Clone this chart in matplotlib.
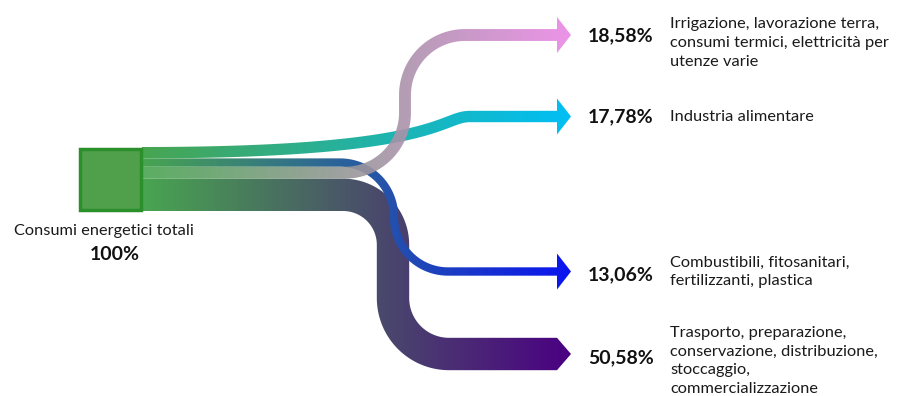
import numpy as np
import matplotlib
matplotlib.use("Agg")
import matplotlib.pyplot as plt
from matplotlib.path import Path
from matplotlib.patches import PathPatch, Rectangle

plt.rcParams['font.family'] = ['Lato', 'DejaVu Sans']

# shares of total energy use, in the order the flows leave the source box
labels = ["17,78%", "13,06%", "18,58%", "50,58%"]
values = [17.78, 13.06, 18.58, 50.58]
descriptions = [
    "Industria alimentare",
    "Combustibili, fitosanitari,\nfertilizzanti, plastica",
    "Irrigazione, lavorazione terra,\nconsumi termici, elettricità per\nutenze varie",
    "Trasporto, preparazione,\nconservazione, distribuzione,\nstoccaggio,\ncommercializzazione",
]
end_colors = ["#00bff5", "#0a14f0", "#eb87e6", "#4b0082"]
source_label = "Consumi energetici totali"
source_value = "100%"

W, H = 899, 396
BOX_X0, BOX_X1, BOX_Y0 = 78, 142, 147
SCALE = 0.64          # pixels per percent
SHAFT_END, TIP = 557, 571
START_RGB = np.array([72, 165, 80]) / 255


def hline(x0, x1, y, n=80):
    xs = np.linspace(x0, x1, n)
    return np.column_stack([xs, np.full(n, y)])


def vline(x, y0, y1, n=20):
    ys = np.linspace(y0, y1, n)
    return np.column_stack([np.full(n, x), ys])


def arc(cx, cy, r, a0, a1, n=60):
    a = np.radians(np.linspace(a0, a1, n))
    return np.column_stack([cx + r * np.cos(a), cy + r * np.sin(a)])


def bezier(p0, p1, p2, p3, n=200):
    t = np.linspace(0, 1, n)[:, None]
    p0, p1, p2, p3 = map(np.array, (p0, p1, p2, p3))
    return ((1 - t) ** 3) * p0 + 3 * ((1 - t) ** 2) * t * p1 + 3 * (1 - t) * t ** 2 * p2 + t ** 3 * p3


def join(*parts):
    out = [parts[0]]
    for p in parts[1:]:
        out.append(p[1:])
    return np.vstack(out)


def centerline(i, y0):
    # route of each flow from the box to its arrow
    if i == 0:
        return join(bezier((BOX_X1, y0), (440, y0), (440, 116.5), (470, 116.5)),
                    hline(470, SHAFT_END, 116.5))
    if i == 1:
        r1, r2 = 54, 54
        return join(hline(BOX_X1, 340, y0),
                    arc(340, y0 + r1, r1, -90, 0),
                    vline(340 + r1, y0 + r1, 271.5 - r2),
                    arc(340 + r1 + r2, 271.5 - r2, r2, 180, 90),
                    hline(340 + r1 + r2, SHAFT_END, 271.5))
    if i == 2:
        r1, r2 = 60, 60
        return join(hline(BOX_X1, 345, y0),
                    arc(345, y0 - r1, r1, 90, 0),
                    vline(345 + r1, y0 - r1, 35 + r2),
                    arc(345 + r1 + r2, 35 + r2, r2, 180, 270),
                    hline(345 + r1 + r2, SHAFT_END, 35))
    r1, r2 = 50, 56
    return join(hline(BOX_X1, 343, y0),
                arc(343, y0 + r1, r1, -90, 0),
                vline(343 + r1, y0 + r1, 354 - r2),
                arc(343 + r1 + r2, 354 - r2, r2, 180, 90),
                hline(343 + r1 + r2, SHAFT_END, 354))


def band_path(pts, hw, head):
    d = np.gradient(pts, axis=0)
    d /= np.linalg.norm(d, axis=1)[:, None]
    nrm = np.column_stack([-d[:, 1], d[:, 0]])
    a = pts + nrm * hw
    b = pts - nrm * hw
    ye = pts[-1, 1]
    tip = np.array([[SHAFT_END, ye + head], [TIP, ye], [SHAFT_END, ye - head]])
    verts = np.vstack([a, tip, b[::-1], a[:1]])
    codes = [Path.MOVETO] + [Path.LINETO] * (len(verts) - 2) + [Path.CLOSEPOLY]
    return Path(verts, codes)


fig = plt.figure(figsize=(W / 100, H / 100), dpi=100)
ax = fig.add_axes([0, 0, 1, 1])
ax.set_xlim(0, W)
ax.set_ylim(H, 0)
ax.axis("off")

# stack the flows at the right edge of the source box
widths = [v * SCALE for v in values]
tops = BOX_Y0 + np.concatenate([[0], np.cumsum(widths)[:-1]])
mids = tops + np.array(widths) / 2

n = 512
draw_order = [3, 0, 1, 2]
alphas = {0: 1.0, 1: 1.0, 2: 0.9, 3: 1.0}
for i in draw_order:
    pts = centerline(i, mids[i])
    hw = widths[i] / 2
    head = hw if i == 3 else 18
    path = band_path(pts, hw, head)
    patch = PathPatch(path, facecolor="none", edgecolor="none")
    ax.add_patch(patch)
    end = np.array(matplotlib.colors.to_rgb(end_colors[i]))
    f = np.linspace(0, 1, n)[:, None]
    grad = (START_RGB * (1 - f) + end * f)[None, :, :]
    im = ax.imshow(grad, extent=(BOX_X1, TIP, H, 0), aspect="auto",
                   interpolation="bilinear", alpha=alphas[i], zorder=2)
    im.set_clip_path(patch)

ax.set_xlim(0, W)
ax.set_ylim(H, 0)

ax.add_patch(Rectangle((BOX_X0 + 1.5, BOX_Y0 + 1.5), BOX_X1 - BOX_X0 - 3, 61,
                       facecolor="#50a04b", edgecolor="#2b8f2b", linewidth=2.5, zorder=3))

ax.text(104, 231, source_label, ha="center", va="center", fontsize=11.8, color="#1a1a1a")
ax.text(115, 254, source_value, ha="center", va="center", fontsize=14,
        fontweight="bold", color="#111111")

label_y = [117, 275, 36, 358]
desc_y = [117, 272, 43, 361]
for i in range(4):
    ax.text(588, label_y[i], labels[i], ha="left", va="center", fontsize=14,
            fontweight="bold", color="#111111")
    ax.text(670, desc_y[i], descriptions[i], ha="left", va="center", fontsize=11.8,
            color="#1a1a1a", linespacing=1.42)

fig.savefig("out.png", dpi=100)
